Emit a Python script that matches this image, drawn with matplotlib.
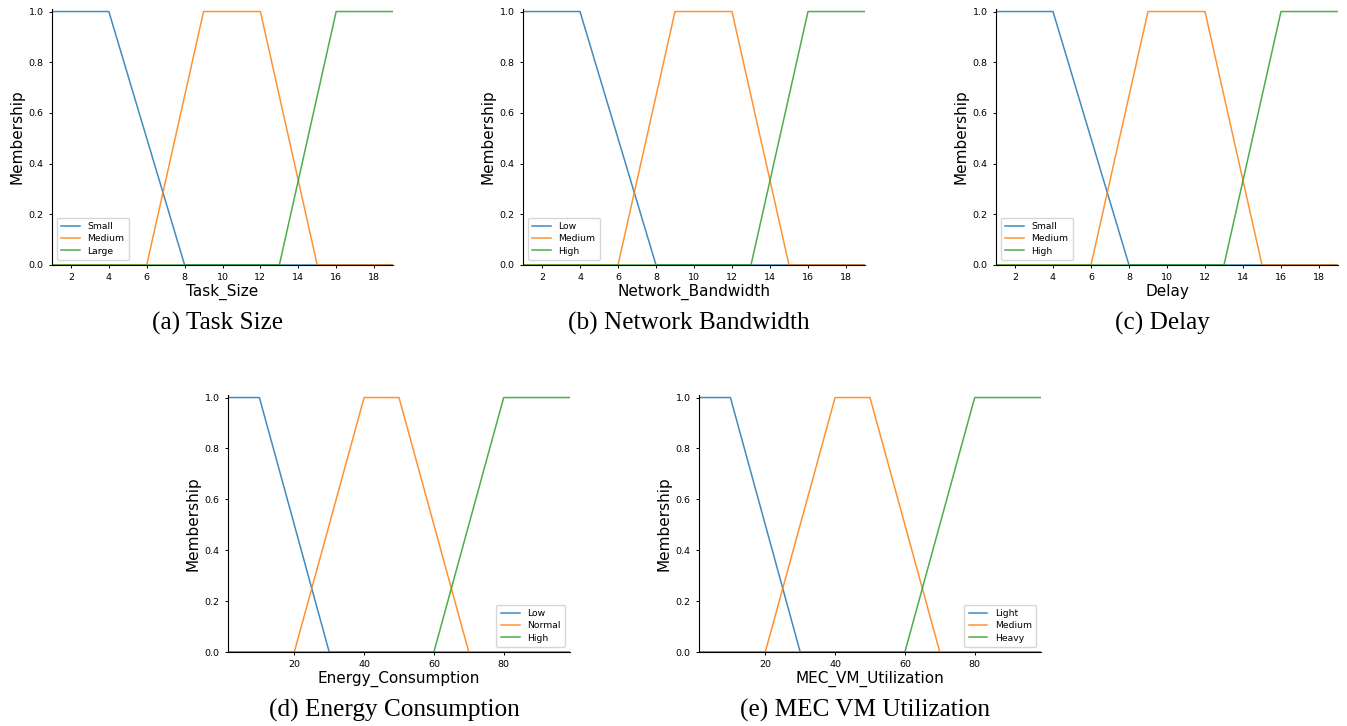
import matplotlib
matplotlib.use("Agg")
import matplotlib.pyplot as plt

# ---- data (breakpoints) ----
uni_small = [1, 19]
uni_big = [1, 99]

task_labels = ["Small", "Medium", "Large"]
bw_labels = ["Low", "Medium", "High"]
delay_labels = ["Small", "Medium", "High"]
energy_labels = ["Low", "Normal", "High"]
vm_labels = ["Light", "Medium", "Heavy"]

# top-row variables (universe 1..19)
top_lo_x = [1, 4, 8, 19]
top_lo_y = [1, 1, 0, 0]
top_mid_x = [1, 6, 9, 12, 15, 19]
top_mid_y = [0, 0, 1, 1, 0, 0]
top_hi_x = [1, 13, 16, 19]
top_hi_y = [0, 0, 1, 1]

# bottom-row variables (universe 1..99)
bot_lo_x = [1, 10, 30, 99]
bot_lo_y = [1, 1, 0, 0]
bot_mid_x = [1, 20, 40, 50, 70, 99]
bot_mid_y = [0, 0, 1, 1, 0, 0]
bot_hi_x = [1, 60, 80, 99]
bot_hi_y = [0, 0, 1, 1]

xlabels = ["Task_Size", "Network_Bandwidth", "Delay", "Energy_Consumption", "MEC_VM_Utilization"]
captions = ["(a) Task Size", "(b) Network Bandwidth", "(c) Delay",
            "(d) Energy Consumption", "(e) MEC VM Utilization"]
top_ticks = [2, 4, 6, 8, 10, 12, 14, 16, 18]
bot_ticks = [20, 40, 60, 80]
y_ticks = [0.0, 0.2, 0.4, 0.6, 0.8, 1.0]

W, H = 1347, 726
fig = plt.figure(figsize=(W / 100, H / 100), dpi=100)

# axes boxes in pixels: left, top, right, bottom
boxes = [
    (52, 9, 393, 265),
    (523, 9, 865, 265),
    (996, 9, 1338, 265),
    (228, 395, 570, 652),
    (699, 395, 1041, 652),
]
caption_y = [323, 323, 323, 710, 710]

sets = [
    (uni_small, top_ticks, task_labels, (top_lo_x, top_lo_y), (top_mid_x, top_mid_y), (top_hi_x, top_hi_y), "lower left"),
    (uni_small, top_ticks, bw_labels, (top_lo_x, top_lo_y), (top_mid_x, top_mid_y), (top_hi_x, top_hi_y), "lower left"),
    (uni_small, top_ticks, delay_labels, (top_lo_x, top_lo_y), (top_mid_x, top_mid_y), (top_hi_x, top_hi_y), "lower left"),
    (uni_big, bot_ticks, energy_labels, (bot_lo_x, bot_lo_y), (bot_mid_x, bot_mid_y), (bot_hi_x, bot_hi_y), "lower right"),
    (uni_big, bot_ticks, vm_labels, (bot_lo_x, bot_lo_y), (bot_mid_x, bot_mid_y), (bot_hi_x, bot_hi_y), "lower right"),
]
colors = ["#1f77b4", "#ff7f0e", "#2ca02c"]

for i, (box, s) in enumerate(zip(boxes, sets)):
    l, t, r, b = box
    ax = fig.add_axes([l / W, (H - b) / H, (r - l) / W, (b - t) / H])
    uni, ticks, labels, lo, mid, hi, loc = s
    for (xs, ys), lab, c in zip([lo, mid, hi], labels, colors):
        ax.plot(xs, ys, color=c, lw=1.1, alpha=0.85, label=lab)
    ax.set_xlim(uni[0], uni[1])
    ax.set_ylim(0, 1.01)
    ax.set_xticks(ticks)
    ax.set_yticks(y_ticks)
    ax.tick_params(labelsize=6.8, length=2.5, width=0.7)
    ax.spines["top"].set_visible(False)
    ax.spines["right"].set_visible(False)
    for sp in ("left", "bottom"):
        ax.spines[sp].set_linewidth(0.8)
    ax.set_xlabel(xlabels[i], fontsize=11, labelpad=1)
    ax.set_ylabel("Membership", fontsize=11, labelpad=3)
    ax.legend(loc=loc, fontsize=6.7, handlelength=2.0, borderpad=0.5, labelspacing=0.35)
    cx = (l + r) / 2 - 5
    fig.text(cx / W, 1 - caption_y[i] / H, captions[i], ha="center", va="center",
             fontsize=18.2, family="Liberation Serif")

fig.savefig("out.png", dpi=100)
